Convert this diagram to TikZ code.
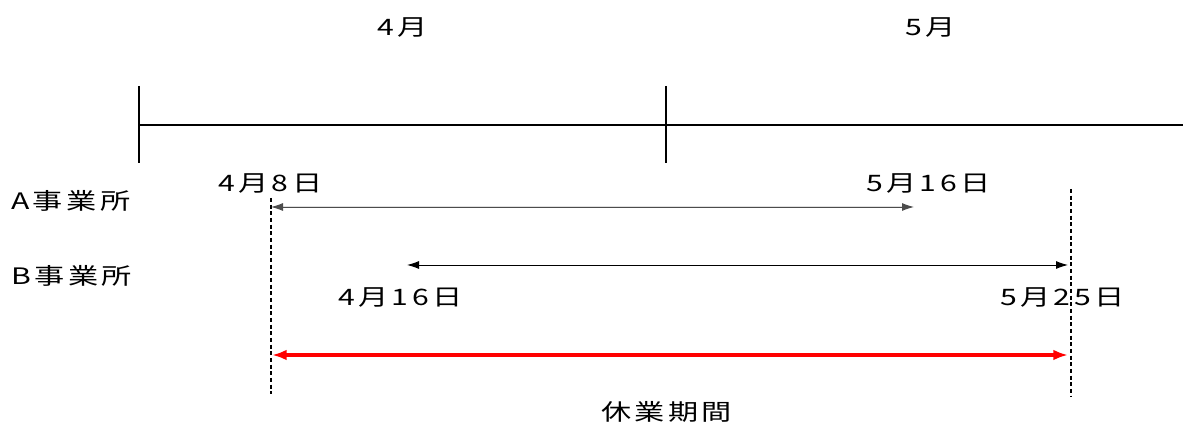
\documentclass[tikz,border=0pt]{standalone}
\usepackage{fontspec}
\newfontfamily\jpfont[LetterSpace=15,FakeStretch=1.33]{Noto Sans CJK JP}
\usetikzlibrary{arrows.meta}
\tikzset{
  lbl/.style={anchor=west,inner sep=0pt,font=\jpfont\fontsize{17}{20}\selectfont},
  axis/.style={line width=1.6pt,black},
  tick/.style={line width=1.6pt,black},
  span/.style={line width=0.7pt,{Latex[length=9pt,width=6pt]}-{Latex[length=9pt,width=6pt]}},
  guide/.style={line width=1.4pt,dash pattern=on 3pt off 2pt},
  total/.style={line width=3pt,red,{Latex[length=11pt,width=8pt]}-{Latex[length=11pt,width=8pt]}}
}
\begin{document}
\begin{tikzpicture}[x=0.75pt,y=-0.75pt]
\useasboundingbox (0,0) rectangle (1183,423);
% month labels
\node[lbl] (apr) at (377,28) {4月};
\node[lbl] (may) at (905,28) {5月};
% timeline
\coordinate (t0) at (139,125);
\coordinate (tm) at (666,125);
\coordinate (t1) at (1183,125);
\coordinate (t0a) at (139,86);
\coordinate (t0b) at (139,163);
\coordinate (tma) at (666,86);
\coordinate (tmb) at (666,163);
\draw[axis] (t0) -- (t1);
\draw[tick] (t0a) -- (t0b);
\draw[tick] (tma) -- (tmb);
% office labels
\node[lbl] (A) at (11,201) {A事業所};
\node[lbl] (B) at (11,276) {B事業所};
% date labels
\node[lbl] (d48) at (218,184) {4月8日};
\node[lbl] (d516) at (866,184) {5月16日};
\node[lbl] (d416) at (338,298) {4月16日};
\node[lbl] (d525) at (1000,298) {5月25日};
% guide lines
\coordinate (g1a) at (271,198);
\coordinate (g1b) at (271,394);
\coordinate (g2a) at (1071,189);
\coordinate (g2b) at (1071,396);
\draw[guide] (g1a) -- (g1b);
\draw[guide] (g2a) -- (g2b);
% spans
\coordinate (a0) at (271,207);
\coordinate (a1) at (914,207);
\draw[span,draw=black!70,fill=black] (a0) -- (a1);
\coordinate (b0) at (407,265);
\coordinate (b1) at (1068,265);
\draw[span] (b0) -- (b1);
\coordinate (r0) at (272,355);
\coordinate (r1) at (1068,355);
\draw[total] (r0) -- (r1);
\node[lbl] (rest) at (601,412) {休業期間};
\end{tikzpicture}
\end{document}
